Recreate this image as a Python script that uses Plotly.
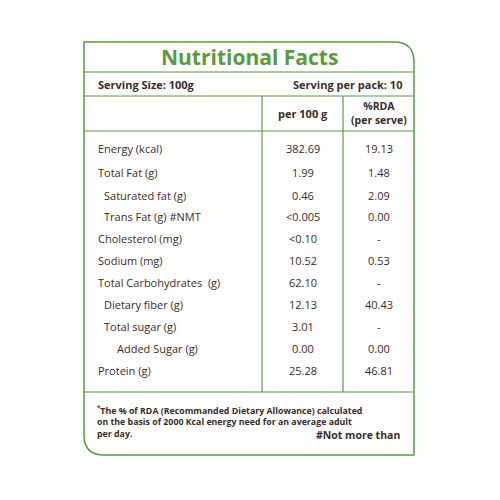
import plotly.graph_objects as go

nutrients = ["Energy (kcal)", "Total Fat (g)", "Saturated fat (g)", "Trans Fat (g) #NMT",
             "Cholesterol (mg)", "Sodium (mg)", "Total Carbohydrates  (g)", "Dietary fiber (g)",
             "Total sugar (g)", "Added Sugar (g)", "Protein (g)"]
indent = [0, 0, 1, 1, 0, 0, 0, 1, 1, 2, 0]
per_100g = ["382.69", "1.99", "0.46", "<0.005", "<0.10", "10.52", "62.10", "12.13", "3.01", "0.00", "25.28"]
rda = ["19.13", "1.48", "2.09", "0.00", "-", "0.53", "-", "40.43", "-", "0.00", "46.81"]
row_y = [148, 172, 195, 216, 238, 260, 282, 304, 326, 348, 370]

green = "#5a9a3c"
dark = "#3b2b2b"
font = "Open Sans"

fig = go.Figure()
fig.add_trace(go.Scatter(x=[0], y=[0], mode="markers", marker=dict(opacity=0), hoverinfo="skip"))

shapes = [
    dict(type="path", path="M84,42 L394,42 Q414,42 414,62 L414,455 L104,455 Q84,455 84,435 Z",
         line=dict(color=green, width=1.5)),
    dict(type="line", x0=84, x1=414, y0=72, y1=72, line=dict(color=green, width=1.2)),
    dict(type="line", x0=84, x1=414, y0=96, y1=96, line=dict(color=green, width=1.2)),
    dict(type="line", x0=84, x1=414, y0=131, y1=131, line=dict(color=green, width=1.2)),
    dict(type="line", x0=84, x1=414, y0=392, y1=392, line=dict(color=green, width=1.2)),
    dict(type="line", x0=262, x1=262, y0=96, y1=392, line=dict(color=green, width=1.2)),
    dict(type="line", x0=343, x1=343, y0=96, y1=392, line=dict(color=green, width=1.2)),
]

ann = [
    dict(x=249, y=57, text="<b>Nutritional Facts</b>", font=dict(size=21, color=green)),
    dict(x=96, y=84, text="<b>Serving Size: 100g</b>", xanchor="left", font=dict(size=11, color=dark)),
    dict(x=404, y=84, text="<b>Serving per pack: 10</b>", xanchor="right", font=dict(size=11, color=dark)),
    dict(x=303, y=113, text="<b>per 100 g</b>", font=dict(size=11, color=dark)),
    dict(x=379, y=113, text="<b>%RDA<br>(per serve)</b>", font=dict(size=10.5, color=dark)),
    dict(x=95, y=421, xanchor="left", align="left",
         text="<b><sup>*</sup>The % of RDA (Recommanded Dietary Allowance) calculated<br>"
              "on the basis of 2000 Kcal energy need for an average adult<br>per day.</b>",
         font=dict(size=8.8, color=dark)),
    dict(x=402, y=435, xanchor="right", text="<b>#Not more than</b>", font=dict(size=10.5, color=dark)),
]
for name, ind, a, b, y in zip(nutrients, indent, per_100g, rda, row_y):
    ann.append(dict(x=96 + [0, 6, 19][ind], y=y, text=name, xanchor="left", font=dict(size=11, color=dark)))
    ann.append(dict(x=303, y=y, text=a, font=dict(size=11, color=dark)))
    ann.append(dict(x=379, y=y, text=b, font=dict(size=11, color=dark)))
for a in ann:
    a.update(xref="x", yref="y", showarrow=False, yanchor="middle")
    a["font"]["family"] = font

# page body adds an 8px margin, so shift the visible range to compensate
fig.update_layout(
    width=500, height=500, margin=dict(l=0, r=0, t=0, b=0),
    paper_bgcolor="white", plot_bgcolor="white", showlegend=False,
    xaxis=dict(range=[8, 508], visible=False, fixedrange=True),
    yaxis=dict(range=[508, 8], visible=False, fixedrange=True),
    shapes=shapes, annotations=ann,
)
fig.write_html("out.html")
